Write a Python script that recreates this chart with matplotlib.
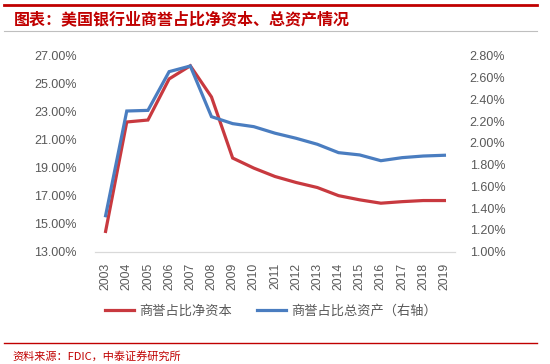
import matplotlib
matplotlib.use("Agg")
import matplotlib.pyplot as plt
from matplotlib.lines import Line2D
from matplotlib.ticker import FuncFormatter

plt.rcParams['font.family'] = ['Liberation Sans', 'Noto Sans CJK SC', 'DejaVu Sans']

years = [str(y) for y in range(2003, 2020)]
net_capital = [14.45, 22.28, 22.42, 25.36, 26.30, 24.07, 19.70, 18.98, 18.38,
               17.95, 17.59, 17.01, 16.71, 16.47, 16.58, 16.66, 16.66]
total_assets = [1.331, 2.294, 2.30, 2.656, 2.708, 2.242, 2.178, 2.15, 2.09,
                2.043, 1.988, 1.911, 1.89, 1.837, 1.865, 1.88, 1.887]
left_ticks = [13, 15, 17, 19, 21, 23, 25, 27]
right_ticks = [1.0, 1.2, 1.4, 1.6, 1.8, 2.0, 2.2, 2.4, 2.6, 2.8]
title = "图表：美国银行业商誉占比净资本、总资产情况"
legend_labels = ["商誉占比净资本", "商誉占比总资产（右轴）"]
source = "资料来源：FDIC，中泰证券研究所"

RED = "#C8393F"
BLUE = "#4A7DC0"
TXT = "#595959"
W, H = 550, 364

fig = plt.figure(figsize=(5.5, 3.64), dpi=100)
fig.patch.set_facecolor("white")

# frame lines
fig.add_artist(Line2D([4 / W, 537 / W], [1 - 5 / H] * 2, color="#C00000", lw=2.0))
fig.add_artist(Line2D([4 / W, 537 / W], [1 - 31 / H] * 2, color="#BFBFBF", lw=0.8))
fig.add_artist(Line2D([4 / W, 537 / W], [1 - 343 / H] * 2, color="#C00000", lw=1.0))
fig.text(14 / W, 1 - 19 / H, title, color="#C00000", fontsize=11.5, fontweight="bold",
         style="italic", va="center", ha="left", family=['Noto Sans CJK SC', 'DejaVu Sans'])
fig.text(12 / W, 1 - 356 / H, source, color="#C00000", fontsize=8, va="center", ha="left",
         family=['Noto Sans CJK SC', 'DejaVu Sans'])

ax = fig.add_axes([95 / W, 112.3 / H, 360 / W, 195.7 / H])
ax2 = ax.twinx()
x = list(range(len(years)))
l1, = ax.plot(x, net_capital, color=RED, lw=2.3, solid_joinstyle="miter")
l2, = ax2.plot(x, total_assets, color=BLUE, lw=2.3, solid_joinstyle="miter")

ax.set_xlim(-0.5, len(years) - 0.5)
ax.set_ylim(13, 27)
ax2.set_ylim(1.0, 2.8)
ax.set_yticks(left_ticks)
ax2.set_yticks(right_ticks)
ax.yaxis.set_major_formatter(FuncFormatter(lambda v, p: f"{v:.2f}%"))
ax2.yaxis.set_major_formatter(FuncFormatter(lambda v, p: f"{v:.2f}%"))
ax.set_xticks(x)
ax.set_xticklabels(years, rotation=90)

for a in (ax, ax2):
    for s in ("top", "left", "right"):
        a.spines[s].set_visible(False)
    a.spines["bottom"].set_color("#D9D9D9")
    a.tick_params(length=0, colors=TXT, labelsize=9)
ax.tick_params(axis="y", pad=13)
ax2.tick_params(axis="y", pad=10.5)
ax.tick_params(axis="x", pad=8, labelsize=8.7)

leg = fig.legend([l1, l2], legend_labels, loc="center", bbox_to_anchor=(271 / W, 1 - 311 / H),
                 ncol=2, frameon=False, handlelength=2.2, handletextpad=0.4, columnspacing=1.9,
                 prop={"family": ['Noto Sans CJK SC', 'DejaVu Sans'], "size": 9.5})
for t in leg.get_texts():
    t.set_color(TXT)

fig.savefig("out.png", dpi=100, facecolor="white")
